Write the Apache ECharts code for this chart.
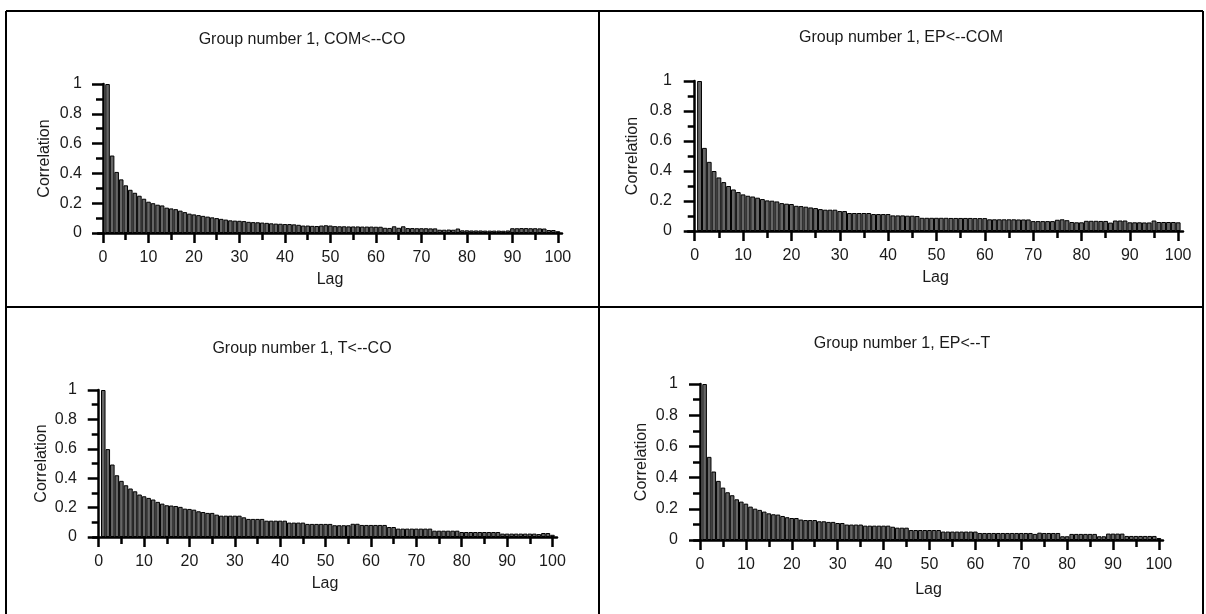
<!DOCTYPE html>
<html>
<head>
<meta charset="utf-8">
<script src="https://cdn.jsdelivr.net/npm/echarts@6/dist/echarts.min.js"></script>
<style>
  html, body { margin: 0; padding: 0; background: #fff; }
  #chart { width: 1206px; height: 614px; }
</style>
</head>
<body>
<div id="chart"></div>
<script>
// Tick positions on the lag axis (labelled majors, unlabelled minors)
const majorLagTicks = [0, 10, 20, 30, 40, 50, 60, 70, 80, 90, 100];
const minorLagTicks = [5, 15, 25, 35, 45, 55, 65, 75, 85, 95];

const panelTitles = [
  'Group number 1, COM<--CO',
  'Group number 1, EP<--COM',
  'Group number 1, T<--CO',
  'Group number 1, EP<--T'
];

// Correlation by lag, lags 1..100
const comFromCo = [
  1.0, 0.52, 0.41, 0.36, 0.32, 0.29, 0.27, 0.25, 0.23, 0.21,
  0.20, 0.19, 0.185, 0.17, 0.165, 0.16, 0.15, 0.14, 0.13, 0.125,
  0.12, 0.115, 0.11, 0.105, 0.10, 0.095, 0.09, 0.085, 0.083, 0.082,
  0.08, 0.075, 0.073, 0.072, 0.07, 0.068, 0.065, 0.063, 0.062, 0.06,
  0.06, 0.058, 0.055, 0.05, 0.05, 0.048, 0.047, 0.05, 0.052, 0.05,
  0.046, 0.045, 0.045, 0.044, 0.044, 0.044, 0.043, 0.043, 0.043, 0.042,
  0.042, 0.035, 0.034, 0.045, 0.035, 0.045, 0.033, 0.033, 0.032, 0.032,
  0.032, 0.031, 0.031, 0.022, 0.022, 0.023, 0.022, 0.03, 0.018, 0.018,
  0.017, 0.017, 0.017, 0.016, 0.016, 0.016, 0.016, 0.015, 0.017, 0.032,
  0.032, 0.033, 0.033, 0.032, 0.032, 0.031, 0.03, 0.02, 0.02, 0.012
];

const epFromCom = [
  1.0, 0.554, 0.461, 0.40, 0.357, 0.326, 0.30, 0.277, 0.26, 0.244,
  0.235, 0.23, 0.222, 0.213, 0.204, 0.202, 0.197, 0.186, 0.182, 0.18,
  0.168, 0.166, 0.162, 0.157, 0.153, 0.146, 0.142, 0.142, 0.142, 0.133,
  0.133, 0.12, 0.12, 0.12, 0.12, 0.12, 0.113, 0.113, 0.113, 0.113,
  0.104, 0.104, 0.104, 0.102, 0.102, 0.10, 0.088, 0.088, 0.088, 0.088,
  0.088, 0.088, 0.087, 0.087, 0.087, 0.087, 0.087, 0.086, 0.086, 0.086,
  0.078, 0.078, 0.078, 0.078, 0.078, 0.078, 0.077, 0.077, 0.077, 0.066,
  0.066, 0.066, 0.066, 0.066, 0.075, 0.078, 0.072, 0.06, 0.058, 0.058,
  0.068, 0.068, 0.068, 0.067, 0.067, 0.056, 0.07, 0.07, 0.07, 0.058,
  0.058, 0.058, 0.057, 0.057, 0.07, 0.06, 0.06, 0.06, 0.06, 0.058
];

const tFromCo = [
  1.0, 0.598, 0.493, 0.42, 0.382, 0.352, 0.33, 0.311, 0.289, 0.277,
  0.266, 0.255, 0.239, 0.227, 0.216, 0.214, 0.211, 0.205, 0.193, 0.191,
  0.186, 0.175, 0.17, 0.164, 0.164, 0.152, 0.145, 0.145, 0.145, 0.145,
  0.145, 0.134, 0.123, 0.123, 0.123, 0.123, 0.111, 0.111, 0.111, 0.111,
  0.111, 0.098, 0.098, 0.098, 0.098, 0.089, 0.089, 0.089, 0.089, 0.089,
  0.089, 0.08, 0.08, 0.08, 0.08, 0.09, 0.09, 0.082, 0.082, 0.082,
  0.082, 0.082, 0.082, 0.068, 0.068, 0.057, 0.057, 0.057, 0.057, 0.057,
  0.057, 0.057, 0.057, 0.043, 0.043, 0.043, 0.043, 0.043, 0.043, 0.034,
  0.034, 0.034, 0.034, 0.034, 0.034, 0.034, 0.034, 0.034, 0.023, 0.023,
  0.023, 0.023, 0.023, 0.023, 0.023, 0.023, 0.02, 0.027, 0.027, 0.015
];

const epFromT = [
  1.0, 0.533, 0.439, 0.379, 0.336, 0.306, 0.287, 0.261, 0.246, 0.233,
  0.214, 0.201, 0.193, 0.182, 0.171, 0.165, 0.163, 0.154, 0.146, 0.141,
  0.141, 0.131, 0.128, 0.128, 0.128, 0.12, 0.12, 0.116, 0.116, 0.109,
  0.109, 0.099, 0.099, 0.099, 0.099, 0.092, 0.092, 0.092, 0.092, 0.092,
  0.092, 0.085, 0.079, 0.079, 0.079, 0.064, 0.064, 0.064, 0.064, 0.064,
  0.064, 0.064, 0.054, 0.054, 0.054, 0.054, 0.054, 0.054, 0.054, 0.054,
  0.045, 0.045, 0.045, 0.045, 0.045, 0.045, 0.045, 0.045, 0.045, 0.045,
  0.045, 0.045, 0.039, 0.047, 0.045, 0.045, 0.045, 0.045, 0.024, 0.024,
  0.039, 0.039, 0.039, 0.039, 0.039, 0.039, 0.024, 0.024, 0.041, 0.041,
  0.041, 0.041, 0.026, 0.026, 0.026, 0.026, 0.026, 0.026, 0.026, 0.013
];

const panelSeries = [comFromCo, epFromCom, tFromCo, epFromT];

// Plot-area geometry of each of the four panels
const panelLayout = [
  { left: 98,  top: 84,  width: 464, height: 149, xMin: -1.1,  xMax: 100.9, barW: 4.55, yGap: 45, xGap: 39, titleX: 302, titleY: 40 },
  { left: 688, top: 81,  width: 495, height: 150, xMin: -1.39, xMax: 101.0, barW: 4.83, yGap: 47, xGap: 39, titleX: 901, titleY: 38 },
  { left: 93,  top: 390, width: 464, height: 147, xMin: -1.26, xMax: 101.0, barW: 4.54, yGap: 43, xGap: 39, titleX: 302, titleY: 349 },
  { left: 694, top: 384, width: 469, height: 156, xMin: -1.31, xMax: 100.9, barW: 4.59, yGap: 44, xGap: 42, titleX: 902, titleY: 344 }
];

const FONT = '"Liberation Sans", Arial, sans-serif';
const TEXT = '#1a1a1a';
const axisStroke = { color: '#000', width: 2.5 };

const grids = [], xAxes = [], yAxes = [], series = [], graphics = [];

panelLayout.forEach((p, k) => {
  grids.push({ left: p.left, top: p.top, width: p.width, height: p.height, containLabel: false });

  // lag axis: labelled major ticks
  xAxes.push({
    type: 'value', gridIndex: k, min: p.xMin, max: p.xMax, position: 'bottom',
    axisLine: { show: true, onZero: false, lineStyle: axisStroke },
    axisTick: { show: true, customValues: majorLagTicks, length: 10, lineStyle: axisStroke },
    axisLabel: { show: true, customValues: majorLagTicks, margin: 17, fontSize: 16, color: TEXT, fontFamily: FONT },
    splitLine: { show: false },
    name: 'Lag', nameLocation: 'middle', nameGap: p.xGap,
    nameTextStyle: { fontSize: 16, color: TEXT, fontFamily: FONT }
  });
  // lag axis: short ticks halfway between majors
  xAxes.push({
    type: 'value', gridIndex: k, min: p.xMin, max: p.xMax, position: 'bottom',
    axisLine: { show: false },
    axisTick: { show: true, customValues: minorLagTicks, length: 7, lineStyle: axisStroke },
    axisLabel: { show: false, customValues: minorLagTicks },
    splitLine: { show: false }
  });

  yAxes.push({
    type: 'value', gridIndex: k, min: 0, max: 1, interval: 0.2,
    axisLine: { show: true, lineStyle: axisStroke },
    axisTick: { show: true, length: 11, lineStyle: axisStroke },
    minorTick: { show: true, splitNumber: 2, length: 7, lineStyle: axisStroke },
    axisLabel: { margin: 16, fontSize: 16, color: TEXT, fontFamily: FONT },
    splitLine: { show: false }, minorSplitLine: { show: false },
    name: 'Correlation', nameLocation: 'middle', nameRotate: 90, nameGap: p.yGap,
    nameTextStyle: { fontSize: 16, color: TEXT, fontFamily: FONT }
  });

  series.push({
    type: 'bar', xAxisIndex: 2 * k, yAxisIndex: k,
    data: panelSeries[k].map((v, i) => [i + 1, v]),
    barWidth: p.barW,
    itemStyle: { color: '#666666', borderColor: '#000', borderWidth: 1 },
    silent: true
  });

  graphics.push({
    type: 'text', x: p.titleX, y: p.titleY,
    style: { text: panelTitles[k], font: '16px ' + FONT, fill: TEXT,
             align: 'center', verticalAlign: 'middle', textAlign: 'center', textVerticalAlign: 'middle' }
  });
});

// Frame and dividers between the four panels
const frameLines = [
  [6, 11, 1203, 11],
  [6, 11, 6, 614],
  [1203, 11, 1203, 614],
  [599, 11, 599, 614],
  [6, 307, 1203, 307]
];
frameLines.forEach(([x1, y1, x2, y2]) => {
  graphics.push({ type: 'line', shape: { x1, y1, x2, y2 }, style: { stroke: '#000', lineWidth: 2 }, silent: true });
});

const chart = echarts.init(document.getElementById('chart'), null, { renderer: 'canvas' });
chart.setOption({
  animation: false,
  backgroundColor: '#fff',
  grid: grids,
  xAxis: xAxes,
  yAxis: yAxes,
  series: series,
  graphic: graphics
});
</script>
</body>
</html>
